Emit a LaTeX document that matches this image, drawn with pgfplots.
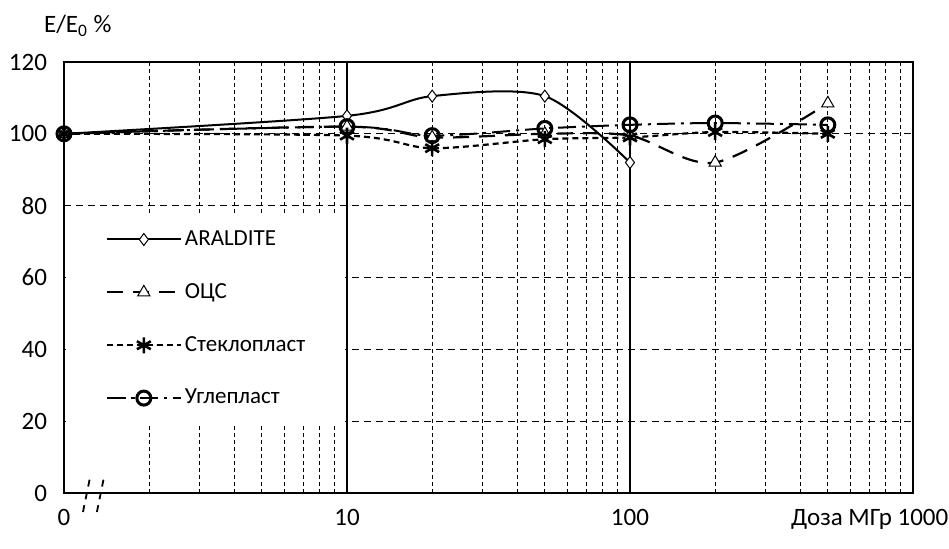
\documentclass[border=0pt]{standalone}
\usepackage{pgfplots}
\pgfplotsset{compat=1.18}
\usepackage{fontspec}
\setmainfont{Carlito}
\begin{document}
\begin{tikzpicture}
\path[use as bounding box] (-32pt,-28pt) rectangle (442.5pt,246.5pt);
\begin{axis}[
  at={(0,0)}, anchor=south west,
  scale only axis, width=424.5pt, height=215.5pt,
  xmode=log, xmin=1, xmax=1000, ymin=0, ymax=120,
  clip=false,
  ytick={0,20,...,120},
  xtick={1,10,100,1000},
  xticklabels={0,10,100,{\llap{Доза МГр }1000\hspace*{-10pt}}},
  minor xtick={2,3,4,5,6,7,8,9,20,30,40,50,60,70,80,90,200,300,400,500,600,700,800,900},
  xmajorgrids, xminorgrids, ymajorgrids,
  major x grid style={black, line width=0.6pt},
  minor x grid style={black, line width=0.5pt, dash pattern=on 2pt off 1.5pt},
  major y grid style={black, line width=0.6pt, dash pattern=on 3.5pt off 2.5pt},
  tick style={draw=none},
  axis line style={line width=1pt},
  /pgf/number format/assume math mode=true,
  tick label style={font=\fontsize{12.5}{14}\selectfont},
  xticklabel style={yshift=-4.5pt},
  yticklabel style={xshift=-5pt},
  ylabel={E/E\textsubscript{0} \%},
  every axis y label/.style={at={(rel axis cs:0,1)}, anchor=base west, xshift=-13.5pt, yshift=14.5pt, font=\fontsize{12.5}{14}\selectfont},
  legend cell align=left,
  legend style={at={(axis cs:1.4,74)}, anchor=north west, draw=none, fill=none, inner sep=0pt, row sep=14.5pt,
    font=\fontsize{11.5}{13}\selectfont, nodes={inner sep=1.5pt}},
  legend image code/.code={\draw[mark repeat=2, mark phase=2, #1] plot coordinates {(0pt,0pt)(18.5pt,0pt)(37pt,0pt)};},
]
\fill[white] (axis cs:1.015,19) rectangle (axis cs:9.85,77);
\addplot[black, smooth, line width=1pt, mark=diamond*, mark options={solid, fill=white, line width=0.5pt, mark size=3pt}]
  coordinates {(1,100)(10,105)(20,110.5)(50,110.5)(100,92)};
\addplot[black, smooth, line width=1.1pt, dash pattern=on 8pt off 5pt, mark=triangle*, mark options={solid, fill=white, line width=0.5pt, mark size=3.5pt}]
  coordinates {(1,100)(10,102)(20,99)(50,100)(100,99.5)(200,92)(500,108.5)};
\addplot[black, smooth, line width=1.1pt, dash pattern=on 3pt off 2pt, mark=asterisk, mark options={solid, line width=1.3pt, mark size=4pt}]
  coordinates {(1,100)(10,99.5)(20,96)(50,98.5)(100,99)(200,100.5)(500,100)};
\addplot[black, smooth, line width=1pt, dash pattern=on 9pt off 3pt on 1.5pt off 3pt, mark=o, mark options={solid, line width=1.5pt, mark size=3.5pt}]
  coordinates {(1,100)(10,102)(20,99.5)(50,101.5)(100,102.5)(200,103)(500,102.5)};
\legend{ARALDITE, ОЦС, Стеклопласт, Углепласт}
\draw[line width=0.9pt, dash pattern=on 3.5pt off 3pt] (axis cs:1.167,-5.3) -- (axis cs:1.235,4.2);
\draw[line width=0.9pt, dash pattern=on 3.5pt off 3pt] (axis cs:1.307,-5.3) -- (axis cs:1.383,4.2);
\end{axis}
\end{tikzpicture}
\end{document}
